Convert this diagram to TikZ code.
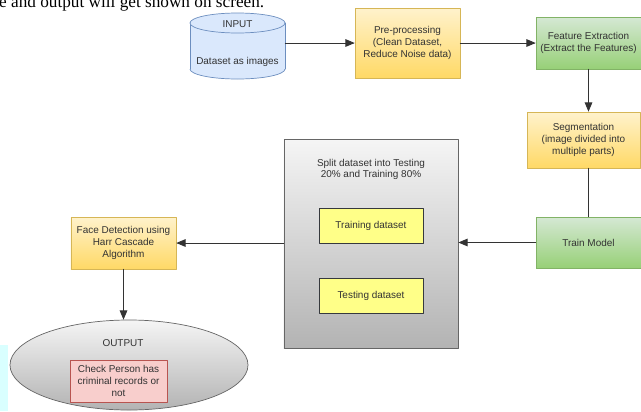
\documentclass[tikz,border=0pt]{standalone}
\usepackage{fontspec}
\setsansfont{Liberation Sans}
\newfontfamily\timesfont{Liberation Serif}
\usepackage{tikz}
\usetikzlibrary{arrows,shapes.geometric}

\definecolor{ink}{HTML}{333333}
\definecolor{yelTop}{HTML}{FFF2CC}
\definecolor{yelBot}{HTML}{FFD966}
\definecolor{yelLine}{HTML}{D6B656}
\definecolor{grnTop}{HTML}{D5E8D4}
\definecolor{grnBot}{HTML}{97D077}
\definecolor{grnLine}{HTML}{82B366}
\definecolor{gryTop}{HTML}{F5F5F5}
\definecolor{gryBot}{HTML}{B3B3B3}
\definecolor{gryLine}{HTML}{666666}
\definecolor{bluFill}{HTML}{DAE8FC}
\definecolor{bluLine}{HTML}{6C8EBF}
\definecolor{noteFill}{HTML}{FFFF88}
\definecolor{noteLine}{HTML}{36393D}
\definecolor{pinkFill}{HTML}{F8CECC}
\definecolor{pinkLine}{HTML}{B85450}
\definecolor{cyanStrip}{HTML}{D9FFFF}

\begin{document}
\begin{tikzpicture}[line cap=round,line join=round,>=triangle 45,x=0.03cm,y=-0.03cm,
  txt/.style={font=\sffamily\fontsize{8.5}{10}\selectfont,text=ink,align=center,inner sep=0pt},
  stage/.style={txt,draw,line width=0.6pt,minimum width=3.15cm},
  stageY/.style={stage,draw=yelLine,top color=yelTop,bottom color=yelBot},
  stageG/.style={stage,draw=grnLine,top color=grnTop,bottom color=grnBot},
  notebox/.style={stage,draw=noteLine,fill=noteFill,minimum width=3.12cm,minimum height=1.05cm},
  cyl/.style={draw=bluLine,line width=0.6pt},
  link/.style={->,draw=ink,line width=0.8pt}]
\clip (0,0) rectangle (641,411);
\fill[white] (0,0) rectangle (641,411);
% page text cut off at the top
\node[anchor=base west,inner sep=0pt,font=\timesfont\fontsize{14.7}{16}\selectfont] (pagetxt) at (-1,7.5) {e and output will get shown on screen.};
\fill[cyanStrip] (0,345) rectangle (8,411);
% input cylinder
\node[minimum width=2.85cm,minimum height=1.98cm,inner sep=0pt] (input) at (237.5,46) {};
\fill[bluFill] (190,23) rectangle (285,69);
\fill[bluFill] (237.5,69) ellipse [x radius=47.5,y radius=10];
\begin{scope}
\clip (185,69) rectangle (290,85);
\draw[cyl] (237.5,69) ellipse [x radius=47.5,y radius=10];
\end{scope}
\draw[cyl] (190,23) -- (190,69) (285,23) -- (285,69);
\draw[cyl,fill=bluFill] (237.5,23) ellipse [x radius=47.5,y radius=10];
\node[txt] (inputttl) at (237.5,24) {INPUT};
\node[txt] (inputsub) at (237.5,62) {Dataset as images};
% top row
\node[stageY,minimum height=2.1cm] (pre) at (407.5,43) {Pre-processing\\(Clean Dataset,\\Reduce Noise data)};
\node[stageG,minimum height=1.56cm] (feat) at (588.5,43) {Feature Extraction\\(Extract the Features)};
\node[stageY,minimum width=3.39cm,minimum height=1.68cm] (seg) at (583.5,140) {Segmentation\\(image divided into\\multiple parts)};
\node[stageG,minimum height=1.53cm] (train) at (588.5,242.5) {Train Model};
% split block
\node[draw=gryLine,line width=0.6pt,top color=gryTop,bottom color=gryBot,minimum width=5.22cm,minimum height=6.27cm,inner sep=0pt] (split) at (371,243.5) {};
\node[txt] (splitttl) at (371,169.5) {Split dataset into Testing\\20\% and Training 80\%};
\node[notebox] (trn) at (371,225.5) {Training dataset};
\node[notebox] (tst) at (371,295.5) {Testing dataset};
% left column
\node[stageY,minimum height=1.56cm] (face) at (123.5,243) {Face Detection using\\Harr Cascade\\Algorithm};
\node[ellipse,draw=gryLine,line width=0.6pt,top color=gryTop,bottom color=gryBot,minimum width=7.14cm,minimum height=2.7cm,inner sep=0pt] (out) at (129,365) {};
\node[txt] (outttl) at (123,343) {OUTPUT};
\node[stage,draw=pinkLine,fill=pinkFill,minimum width=2.91cm,minimum height=1.26cm] (chk) at (118.5,381) {Check Person has\\criminal records or\\not};
% connectors
\draw[link] (input.east |- pre.west) -- (pre.west);
\draw[link] (pre.east) -- (feat.west);
\draw[link] (feat.south) -- (feat.south |- seg.north);
\draw[draw=ink,line width=0.8pt] (seg.south -| train.north) -- (train.north);
\draw[link] (train.west) -- (split.east |- train.west);
\draw[link] (split.west |- face.east) -- (face.east);
\draw[link] (face.south) -- (face.south |- out.north);
\end{tikzpicture}
\end{document}
